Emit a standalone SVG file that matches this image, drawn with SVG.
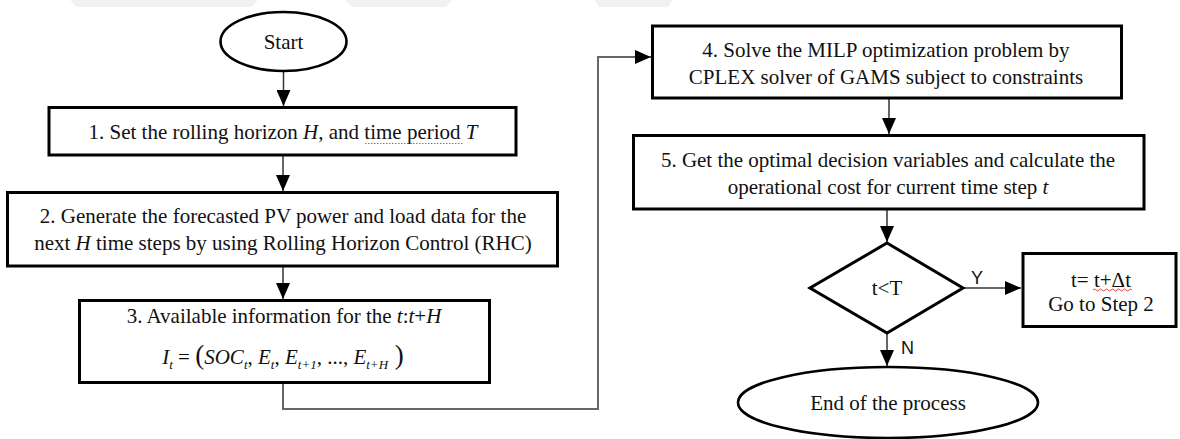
<svg xmlns="http://www.w3.org/2000/svg" width="1180" height="439" viewBox="0 0 1180 439">
<style>
.box{fill:#fff;stroke:#000;stroke-width:3}
.ell{fill:#fff;stroke:#000;stroke-width:2.6}
.t{font-family:"Liberation Serif","Times New Roman",serif;font-size:21px;fill:#111;text-anchor:middle}
.lbl{font-family:"Liberation Sans",Arial,sans-serif;font-size:18px;fill:#111}
.c{fill:none;stroke:#333;stroke-width:1.5}
.loop{fill:none;stroke:#666;stroke-width:2}
i{font-style:italic}
</style>
<defs>
<marker id="ah" viewBox="0 0 16 14" refX="16" refY="7" markerWidth="16" markerHeight="14" markerUnits="userSpaceOnUse" orient="auto">
<path d="M0,0 L16,7 L0,14 z" fill="#000"/>
</marker>
</defs>
<g id="watermark" fill="#f1f1f1">
<polygon points="70,0 258,0 251,7 77,7"/>
<polygon points="345,0 452,0 446,7 352,7"/>
<polygon points="595,0 672,0 668,7 599,7"/>
</g>
<g id="connectors">
<line class="c" x1="283.5" y1="71" x2="283.5" y2="106" marker-end="url(#ah)"/>
<line class="c" x1="283" y1="155" x2="283" y2="191" marker-end="url(#ah)"/>
<line class="c" x1="283" y1="266" x2="283" y2="299" marker-end="url(#ah)"/>
<polyline class="loop" points="283,382 283,409 598,409 598,57 651,57" marker-end="url(#ah)"/>
<line class="c" x1="889" y1="98" x2="889" y2="134" marker-end="url(#ah)"/>
<line class="c" x1="887" y1="209" x2="887" y2="242" marker-end="url(#ah)"/>
<line class="c" x1="963" y1="288" x2="1021" y2="288" marker-end="url(#ah)"/>
<line class="c" x1="887" y1="333" x2="887" y2="366" marker-end="url(#ah)"/>
<text class="lbl" x="971" y="284">Y</text>
<text class="lbl" x="901" y="354">N</text>
</g>
<g id="start">
<ellipse class="ell" cx="283.5" cy="41.5" rx="63" ry="29.5"/>
<text class="t" x="283.5" y="49">Start</text>
</g>
<g id="step1">
<rect class="box" x="49" y="107.5" width="467" height="47.5"/>
<text class="t" x="283" y="139">1. Set the rolling horizon <tspan font-style="italic">H</tspan>, and time period <tspan font-style="italic">T</tspan></text>
<line x1="365" y1="143.5" x2="463" y2="143.5" stroke="#6a6aff" stroke-width="1.2" stroke-dasharray="1.5,1.5"/>
</g>
<g id="step2">
<rect class="box" x="7.5" y="192.5" width="550" height="73.5"/>
<text class="t" x="283" y="223">2. Generate the forecasted PV power and load data for the</text>
<text class="t" x="283" y="250">next <tspan font-style="italic">H</tspan> time steps by using Rolling Horizon Control (RHC)</text>
</g>
<g id="step3">
<rect class="box" x="79.5" y="300.5" width="410" height="82"/>
<text class="t" x="284" y="323">3. Available information for the <tspan font-style="italic">t</tspan>:<tspan font-style="italic">t</tspan>+<tspan font-style="italic">H</tspan></text>
<text class="t" x="283" y="364"><tspan font-style="italic">I</tspan><tspan font-style="italic" font-size="13" dy="5">t</tspan><tspan dy="-5"> = </tspan><tspan font-size="27">(</tspan><tspan font-style="italic">SOC</tspan><tspan font-style="italic" font-size="13" dy="5">t</tspan><tspan dy="-5">, </tspan><tspan font-style="italic">E</tspan><tspan font-style="italic" font-size="13" dy="5">t</tspan><tspan dy="-5">, </tspan><tspan font-style="italic">E</tspan><tspan font-style="italic" font-size="13" dy="5">t+1</tspan><tspan dy="-5">, ..., </tspan><tspan font-style="italic">E</tspan><tspan font-style="italic" font-size="13" dy="5">t+H</tspan><tspan dy="-5" font-size="27"> )</tspan></text>
</g>
<g id="step4">
<rect class="box" x="652.5" y="26" width="469" height="72"/>
<text class="t" x="886" y="57">4. Solve the MILP optimization problem by</text>
<text class="t" x="886" y="84">CPLEX solver of GAMS subject to constraints</text>
</g>
<g id="step5">
<rect class="box" x="633.5" y="135.5" width="510.5" height="73.5"/>
<text class="t" x="888" y="167">5. Get the optimal decision variables and calculate the</text>
<text class="t" x="888" y="194">operational cost for current time step <tspan font-style="italic">t</tspan></text>
</g>
<g id="decision">
<polygon points="887,243 963,288 887,333 810,288" fill="#fff" stroke="#000" stroke-width="3" stroke-linejoin="miter"/>
<text class="t" x="887" y="295">t&lt;T</text>
</g>
<g id="step-next">
<rect class="box" x="1023" y="253.5" width="153" height="73"/>
<text class="t" x="1101" y="287">t= t+Δt</text>
<path d="M1093,290 q1.5,-2 3,0 t3,0 t3,0 t3,0 t3,0 t3,0 t3,0 t3,0 t3,0 t3,0 t3,0 t3,0 t3,0" fill="none" stroke="#e03030" stroke-width="0.9"/>
<text class="t" x="1101" y="311">Go to Step 2</text>
</g>
<g id="end">
<ellipse class="ell" cx="888" cy="402.5" rx="150" ry="35.5"/>
<text class="t" x="888" y="410">End of the process</text>
</g>
</svg>
